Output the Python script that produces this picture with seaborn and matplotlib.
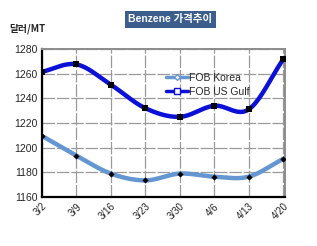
import numpy as np
import pandas as pd
import matplotlib
matplotlib.use("Agg")
import matplotlib.pyplot as plt
import seaborn as sns
from matplotlib.lines import Line2D

dates = ["3/2", "3/9", "3/16", "3/23", "3/30", "4/6", "4/13", "4/20"]
fob_korea = [1209.5, 1193.5, 1179, 1173.5, 1179, 1176.5, 1176.5, 1191]
fob_us_gulf = [1261.5, 1267.5, 1251, 1232, 1225, 1234, 1231, 1271.5]
y_ticks = [1160, 1180, 1200, 1220, 1240, 1260, 1280]

title = "Benzene 가격추이"
y_unit = "달러/MT"

sns.set_theme(style="white")
plt.rcParams['font.family'] = ['Noto Sans CJK KR', 'DejaVu Sans']

df = pd.DataFrame({"date": dates, "FOB Korea": fob_korea, "FOB US Gulf": fob_us_gulf})
df["x"] = range(len(dates))

fig = plt.figure(figsize=(3.17, 2.46), dpi=100)
ax = fig.add_axes([0.1325, 0.199, 0.766, 0.602])


def smooth(xs, ys, n=20):
    xs = np.asarray(xs, float)
    ys = np.asarray(ys, float)
    px = np.concatenate([[2 * xs[0] - xs[1]], xs, [2 * xs[-1] - xs[-2]]])
    py = np.concatenate([[2 * ys[0] - ys[1]], ys, [2 * ys[-1] - ys[-2]]])
    ox, oy = [], []
    t = np.linspace(0, 1, n, endpoint=False)
    for i in range(1, len(px) - 2):
        for arr, out in ((px, ox), (py, oy)):
            p0, p1, p2, p3 = arr[i - 1], arr[i], arr[i + 1], arr[i + 2]
            out.extend(0.5 * ((2 * p1) + (-p0 + p2) * t + (2 * p0 - 5 * p1 + 4 * p2 - p3) * t ** 2
                              + (-p0 + 3 * p1 - 3 * p2 + p3) * t ** 3))
    ox.append(xs[-1]); oy.append(ys[-1])
    return np.array(ox), np.array(oy)


korea_color = "#6496D2"
gulf_color = "#0A10D8"
series = [("FOB Korea", korea_color, "D"), ("FOB US Gulf", gulf_color, "s")]
for name, color, mk in series:
    sx, sy = smooth(df["x"], df[name])
    ax.plot(sx, sy, color=color, lw=3.2, solid_capstyle="round", zorder=3)
    sns.scatterplot(data=df, x="x", y=name, ax=ax, marker=mk, color="black",
                    s=14 if mk == "s" else 10, edgecolor="black", linewidth=0, zorder=4, legend=False)

handles = [Line2D([0], [0], color=korea_color, lw=2.5, marker="D", markersize=3,
                  markerfacecolor="white", markeredgecolor=korea_color),
           Line2D([0], [0], color=gulf_color, lw=2.5, marker="s", markersize=4,
                  markerfacecolor="white", markeredgecolor=gulf_color)]
ax.legend(handles, ["FOB Korea", "FOB US Gulf"], loc="upper left", bbox_to_anchor=(0.47, 0.90),
          frameon=False, handlelength=2.2, handletextpad=0.1, labelspacing=0.35,
          prop={"family": ["Liberation Sans"], "size": 7.5})

ax.set_xlim(0, 7.05)
ax.set_ylim(1160, 1280)
ax.set_yticks(y_ticks)
ax.set_yticklabels([str(v) for v in y_ticks], fontsize=7.5, family=["Liberation Sans"])
ax.set_xticks(range(len(dates)))
ax.set_xticklabels(dates, rotation=45, ha="right", rotation_mode="anchor", fontsize=7,
                   family=["Liberation Sans"])
ax.set_xlabel("")
ax.set_ylabel("")
ax.tick_params(axis="both", length=0, pad=3)
ax.grid(True, color="#9A9A9A", lw=0.9, ls=(0, (10, 1.5)))
ax.set_axisbelow(True)
for s in ["left", "bottom"]:
    ax.spines[s].set_color("black")
    ax.spines[s].set_linewidth(1.6)
for s in ["top", "right"]:
    ax.spines[s].set_color("#8C8C8C")
    ax.spines[s].set_linewidth(1.4)

fig.text(0.538, 0.921, title, ha="center", va="center", color="white", fontsize=7.5,
         fontweight="bold", family=["Liberation Sans", "Noto Sans CJK KR"],
         bbox=dict(boxstyle="square,pad=0.3", fc="#3B5E8C", ec="none"))
fig.text(0.03, 0.885, y_unit, ha="left", va="center", fontsize=7, fontweight="bold",
         family=["Noto Sans CJK KR", "DejaVu Sans"])

fig.savefig("out.png", dpi=100, facecolor="white")
